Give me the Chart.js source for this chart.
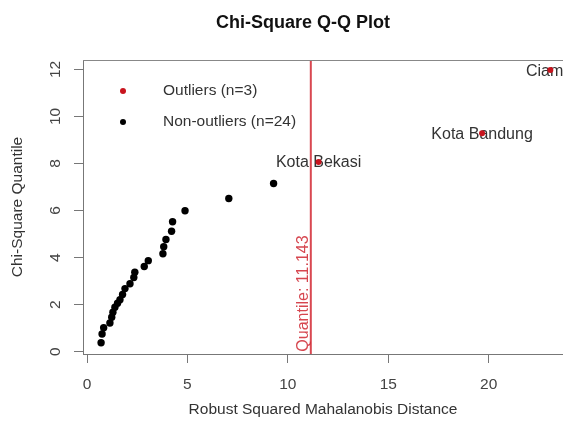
<!DOCTYPE html>
<html>
<head>
<meta charset="utf-8">
<script src="https://cdn.jsdelivr.net/npm/chart.js@4.4.1/dist/chart.umd.min.js"></script>
<style>
  html, body { margin: 0; padding: 0; background: #fff; }
</style>
</head>
<body>
<canvas id="qqChart" width="563" height="428"></canvas>
<script>
// non-outlier points (robust distance, chi-square quantile)
const normalDist = [0.70, 0.75, 0.83, 1.14, 1.23, 1.29, 1.39, 1.52, 1.64, 1.77, 1.89, 2.14,
                    2.33, 2.38, 2.85, 3.05, 3.78, 3.82, 3.93, 4.21, 4.26, 4.88, 7.06, 9.29];
const normalQuant = [0.38, 0.75, 1.02, 1.22, 1.46, 1.68, 1.89, 2.06, 2.21, 2.43, 2.68, 2.89,
                     3.15, 3.38, 3.62, 3.87, 4.16, 4.46, 4.77, 5.12, 5.52, 5.99, 6.51, 7.15];

// outliers
const outlierNames = ["Kota Bekasi", "Kota Bandung", "Ciamis"];
const outlierDist = [11.53, 19.67, 23.07];
const outlierQuant = [8.06, 9.29, 11.97];

const cutoff = 11.143;
const xTicks = [0, 5, 10, 15, 20];
const yTicks = [0, 2, 4, 6, 8, 10, 12];

const FONT = "'Liberation Sans', Arial, sans-serif";
const TXT = 15.5;

const toPoints = (xs, ys) => xs.map((x, i) => ({ x: x, y: ys[i] }));

// extra drawing: cutoff line, labels, legend, title
const extras = {
  id: "extras",
  beforeDatasetsDraw(chart) {
    const { ctx, chartArea, scales } = chart;
    const xs = scales.x, ys = scales.y;
    ctx.save();
    // cutoff line
    const cx = xs.getPixelForValue(cutoff);
    ctx.strokeStyle = "rgba(210, 40, 50, 0.85)";
    ctx.lineWidth = 2;
    ctx.beginPath();
    ctx.moveTo(cx, chartArea.top);
    ctx.lineTo(cx, chartArea.bottom);
    ctx.stroke();
    // outlier names
    ctx.font = "16px " + FONT;
    ctx.fillStyle = "#333";
    ctx.textAlign = "center";
    ctx.textBaseline = "middle";
    outlierNames.forEach((name, i) => {
      ctx.fillText(name, xs.getPixelForValue(outlierDist[i]), ys.getPixelForValue(outlierQuant[i]) + 1);
    });
    ctx.restore();
  },
  afterDraw(chart) {
    const { ctx, chartArea, scales } = chart;
    const xs = scales.x, ys = scales.y;
    ctx.save();
    // top border of the box
    ctx.strokeStyle = "#888";
    ctx.lineWidth = 1;
    ctx.beginPath();
    ctx.moveTo(chartArea.left, chartArea.top + 0.5);
    ctx.lineTo(chartArea.right, chartArea.top + 0.5);
    ctx.stroke();

    // y tick labels, rotated like R
    ctx.font = TXT + "px " + FONT;
    ctx.fillStyle = "#444";
    ctx.textAlign = "center";
    ctx.textBaseline = "middle";
    yTicks.forEach(v => {
      ctx.save();
      ctx.translate(56, ys.getPixelForValue(v));
      ctx.rotate(-Math.PI / 2);
      ctx.fillText(String(v), 0, 0);
      ctx.restore();
    });

    // cutoff label
    ctx.save();
    ctx.translate(xs.getPixelForValue(cutoff) - 7, ys.getPixelForValue(0));
    ctx.rotate(-Math.PI / 2);
    ctx.font = "16px " + FONT;
    ctx.fillStyle = "rgba(210, 50, 60, 0.9)";
    ctx.textAlign = "left";
    ctx.fillText("Quantile: " + cutoff.toFixed(3), 0, 0);
    ctx.restore();

    // legend
    const lx = 123, tx = 163;
    const rows = [
      { color: "#c8141e", text: "Outliers (n=" + outlierNames.length + ")", y: 91 },
      { color: "#000", text: "Non-outliers (n=" + normalDist.length + ")", y: 122 }
    ];
    ctx.textAlign = "left";
    ctx.font = TXT + "px " + FONT;
    rows.forEach(r => {
      ctx.fillStyle = r.color;
      ctx.beginPath();
      ctx.arc(lx, r.y, 3, 0, Math.PI * 2);
      ctx.fill();
      ctx.fillStyle = "#333";
      ctx.fillText(r.text, tx, r.y);
    });

    // main title
    ctx.font = "bold 18px " + FONT;
    ctx.fillStyle = "#111";
    ctx.textAlign = "center";
    ctx.fillText("Chi-Square Q-Q Plot", 303, 23);
    ctx.restore();
  }
};

new Chart(document.getElementById("qqChart"), {
  type: "scatter",
  data: {
    datasets: [
      {
        label: "Non-outliers",
        data: toPoints(normalDist, normalQuant),
        backgroundColor: "#000",
        borderColor: "#000",
        pointRadius: 3.7,
        borderWidth: 0
      },
      {
        label: "Outliers",
        data: toPoints(outlierDist, outlierQuant),
        backgroundColor: "#c8141e",
        borderColor: "#c8141e",
        pointRadius: 3,
        borderWidth: 0
      }
    ]
  },
  options: {
    responsive: false,
    animation: false,
    layout: { autoPadding: false, padding: { top: 60, right: 0, left: 0, bottom: 0 } },
    plugins: {
      legend: { display: false },
      tooltip: { enabled: false }
    },
    scales: {
      x: {
        type: "linear",
        position: "bottom",
        min: -0.2,
        max: 23.7,
        afterFit: s => { s.height = 74; },
        afterBuildTicks: s => { s.ticks = xTicks.map(v => ({ value: v })); },
        ticks: { color: "#444", font: { family: FONT, size: TXT }, padding: 12, maxRotation: 0 },
        grid: { drawOnChartArea: false, drawTicks: true, tickLength: 9, color: "#777", tickColor: "#777" },
        border: { color: "#777" },
        title: {
          display: true,
          text: "Robust Squared Mahalanobis Distance",
          color: "#333",
          font: { family: FONT, size: TXT },
          padding: { top: 0, bottom: 9 }
        }
      },
      y: {
        type: "linear",
        position: "left",
        min: -0.1,
        max: 12.4,
        afterFit: s => { s.width = 83; },
        afterBuildTicks: s => { s.ticks = yTicks.map(v => ({ value: v })); },
        ticks: { display: false },
        grid: { drawOnChartArea: false, drawTicks: true, tickLength: 9, color: "#777", tickColor: "#777" },
        border: { color: "#777" },
        title: {
          display: true,
          text: "Chi-Square Quantile",
          color: "#333",
          font: { family: FONT, size: TXT },
          padding: { top: 8, bottom: 0 }
        }
      }
    }
  },
  plugins: [extras]
});
</script>
</body>
</html>
